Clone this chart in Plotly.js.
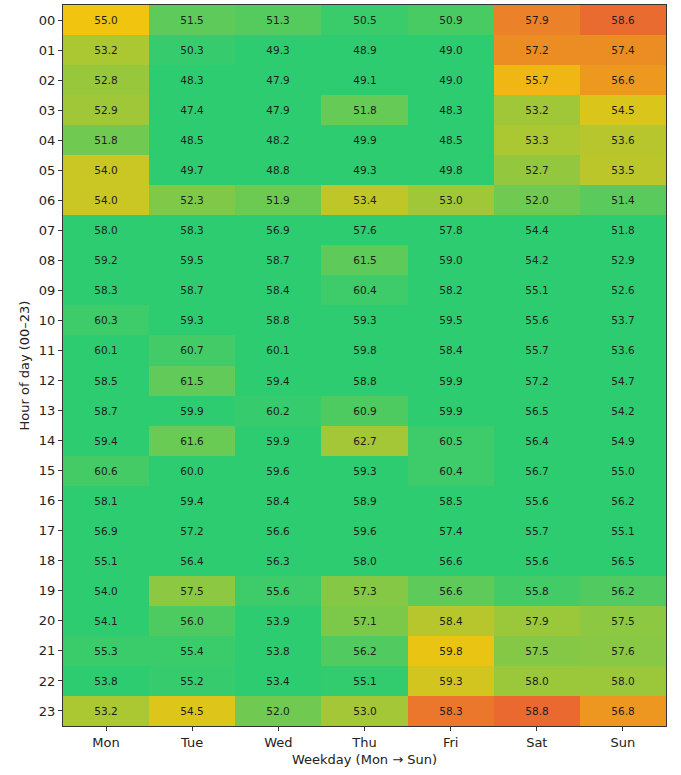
<!DOCTYPE html>
<html>
<head>
<meta charset="utf-8">
<script src="https://cdn.plot.ly/plotly-3.0.1.min.js"></script>
<style>html,body{margin:0;padding:0;background:#fff;}#chart{width:681px;height:775px;}</style>
</head>
<body>
<div id="chart"></div>
<script>
// Tick labels
var weekdays = ["Mon","Tue","Wed","Thu","Fri","Sat","Sun"];
var hours = ["00","01","02","03","04","05","06","07","08","09","10","11",
             "12","13","14","15","16","17","18","19","20","21","22","23"];

// Printed cell values (rows = hours, cols = Mon..Sun)
var values = [
  [55.0,51.5,51.3,50.5,50.9,57.9,58.6],
  [53.2,50.3,49.3,48.9,49.0,57.2,57.4],
  [52.8,48.3,47.9,49.1,49.0,55.7,56.6],
  [52.9,47.4,47.9,51.8,48.3,53.2,54.5],
  [51.8,48.5,48.2,49.9,48.5,53.3,53.6],
  [54.0,49.7,48.8,49.3,49.8,52.7,53.5],
  [54.0,52.3,51.9,53.4,53.0,52.0,51.4],
  [58.0,58.3,56.9,57.6,57.8,54.4,51.8],
  [59.2,59.5,58.7,61.5,59.0,54.2,52.9],
  [58.3,58.7,58.4,60.4,58.2,55.1,52.6],
  [60.3,59.3,58.8,59.3,59.5,55.6,53.7],
  [60.1,60.7,60.1,59.8,58.4,55.7,53.6],
  [58.5,61.5,59.4,58.8,59.9,57.2,54.7],
  [58.7,59.9,60.2,60.9,59.9,56.5,54.2],
  [59.4,61.6,59.9,62.7,60.5,56.4,54.9],
  [60.6,60.0,59.6,59.3,60.4,56.7,55.0],
  [58.1,59.4,58.4,58.9,58.5,55.6,56.2],
  [56.9,57.2,56.6,59.6,57.4,55.7,55.1],
  [55.1,56.4,56.3,58.0,56.6,55.6,56.5],
  [54.0,57.5,55.6,57.3,56.6,55.8,56.2],
  [54.1,56.0,53.9,57.1,58.4,57.9,57.5],
  [55.3,55.4,53.8,56.2,59.8,57.5,57.6],
  [53.8,55.2,53.4,55.1,59.3,58.0,58.0],
  [53.2,54.5,52.0,53.0,58.3,58.8,56.8]
];

// Colour level of each cell (0 = green, 0.5 = yellow, 1 = red)
var colourLevels = [
  [0.50,0.12,0.10,0.03,0.07,0.78,0.87],
  [0.32,0.02,0.00,0.00,0.00,0.73,0.73],
  [0.27,0.00,0.00,0.00,0.00,0.56,0.68],
  [0.29,0.00,0.00,0.14,0.00,0.29,0.44],
  [0.17,0.00,0.00,0.00,0.00,0.32,0.35],
  [0.40,0.00,0.00,0.00,0.00,0.26,0.36],
  [0.40,0.21,0.16,0.37,0.29,0.17,0.11],
  [0.00,0.00,0.00,0.00,0.00,0.00,0.00],
  [0.00,0.00,0.00,0.12,0.00,0.00,0.00],
  [0.00,0.00,0.00,0.04,0.00,0.00,0.00],
  [0.04,0.00,0.00,0.00,0.00,0.00,0.00],
  [0.00,0.05,0.00,0.00,0.00,0.00,0.00],
  [0.00,0.13,0.00,0.00,0.00,0.00,0.00],
  [0.00,0.00,0.02,0.08,0.00,0.00,0.00],
  [0.00,0.15,0.00,0.30,0.04,0.00,0.00],
  [0.06,0.00,0.00,0.00,0.04,0.00,0.00],
  [0.00,0.00,0.00,0.00,0.00,0.00,0.00],
  [0.00,0.00,0.00,0.00,0.00,0.00,0.00],
  [0.00,0.00,0.00,0.00,0.00,0.00,0.00],
  [0.00,0.24,0.04,0.22,0.12,0.05,0.09],
  [0.00,0.08,0.00,0.20,0.35,0.28,0.24],
  [0.03,0.03,0.00,0.09,0.48,0.22,0.23],
  [0.00,0.02,0.00,0.01,0.42,0.28,0.28],
  [0.32,0.45,0.17,0.30,0.82,0.88,0.69]
];

var trace = {
  type: "heatmap",
  x: weekdays,
  y: hours,
  z: colourLevels,
  text: values.map(function(r){ return r.map(function(v){ return v.toFixed(1); }); }),
  texttemplate: "%{text}",
  textfont: {family: "DejaVu Sans", size: 10.5, color: "#1e1e1e"},
  zmin: 0, zmax: 1,
  colorscale: [[0, "#2ecc71"], [0.5, "#f1c40f"], [1, "#e74c3c"]],
  showscale: false,
  xgap: 0, ygap: 0,
  hoverinfo: "skip"
};

var axisCommon = {
  showline: true, mirror: true, linecolor: "#333", linewidth: 1.2,
  ticks: "outside", ticklen: 4, tickwidth: 1, tickcolor: "#333",
  showgrid: false, zeroline: false,
  tickfont: {family: "DejaVu Sans", size: 13, color: "#222"}
};

var layout = {
  width: 681, height: 775,
  margin: {l: 63, r: 15, t: 5, b: 49},
  paper_bgcolor: "#fff", plot_bgcolor: "#fff",
  font: {family: "DejaVu Sans", color: "#222"},
  xaxis: Object.assign({}, axisCommon, {
    type: "category",
    title: {text: "Weekday (Mon \u2192 Sun)", font: {family: "DejaVu Sans", size: 13, color: "#222"}, standoff: 6}
  }),
  yaxis: Object.assign({}, axisCommon, {
    type: "category",
    autorange: "reversed",
    title: {text: "Hour of day (00\u201323)", font: {family: "DejaVu Sans", size: 13, color: "#222"}, standoff: 6}
  })
};

Plotly.newPlot("chart", [trace], layout, {displayModeBar: false, staticPlot: true});
</script>
</body>
</html>
